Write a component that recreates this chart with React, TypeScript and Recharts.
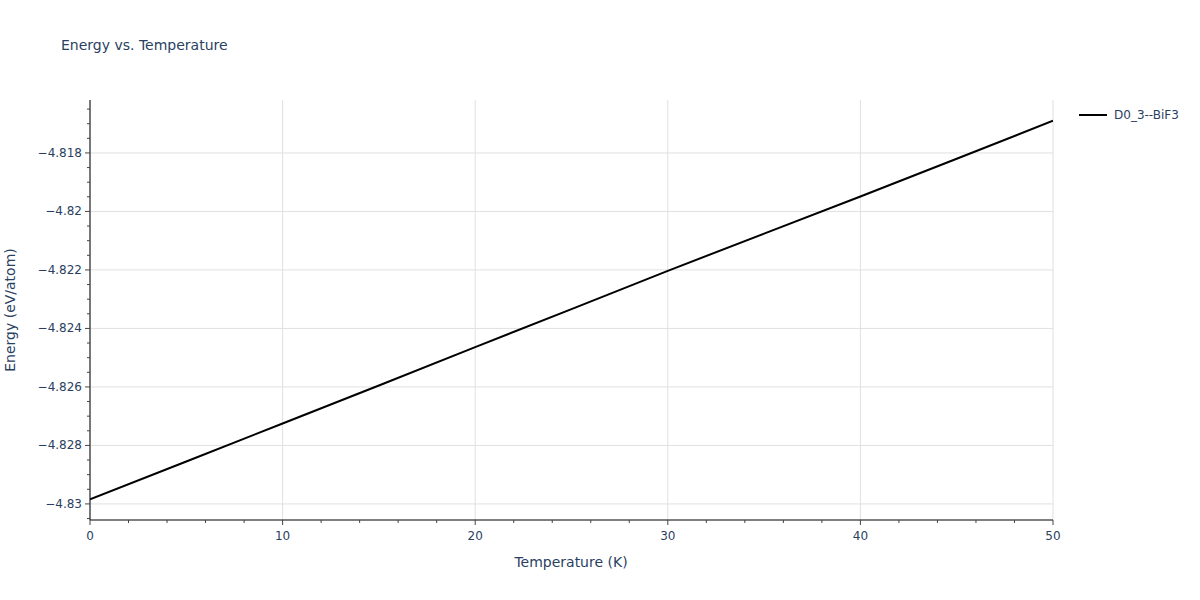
import React from 'react';
import { LineChart, Line, XAxis, YAxis, CartesianGrid } from 'recharts';

const temperatures = [0, 5, 10, 15, 20, 25, 30, 35, 40, 45, 50];
const energies = [-4.82984, -4.82855, -4.82725, -4.82595, -4.82464, -4.82334, -4.82203, -4.82076, -4.81949, -4.81820, -4.8169];
const seriesName = 'D0_3--BiF3';

const xMajorTicks = [0, 10, 20, 30, 40, 50];
const xMinorTicks = [2, 4, 6, 8, 12, 14, 16, 18, 22, 24, 26, 28, 32, 34, 36, 38, 42, 44, 46, 48];
const yMajorTicks = [-4.83, -4.828, -4.826, -4.824, -4.822, -4.82, -4.818];
const yMinorTicks = [-4.8305, -4.8295, -4.829, -4.8285, -4.8275, -4.827, -4.8265, -4.8255, -4.825, -4.8245, -4.8235, -4.823, -4.8225, -4.8215, -4.821, -4.8205, -4.8195, -4.819, -4.8185, -4.8175, -4.817, -4.8165];
const xDomain = [0, 50];
const yDomain = [-4.83055, -4.81619];

const data = temperatures.map((t, i) => ({ t, e: energies[i] }));

const FONT = '"DejaVu Sans", Verdana, sans-serif';
const TEXT = '#2a3f5f';

const isMajor = (list: number[], v: number) => list.some((m) => Math.abs(m - v) < 1e-9);
const fmt = (v: number) => String(v).replace('-', '\u2212');

const XTick = (props: any) => {
  const { x, y, payload } = props;
  const major = isMajor(xMajorTicks, payload.value);
  return (
    <g>
      <line x1={x} x2={x} y1={y} y2={y + (major ? 5 : 3)} stroke="#444" strokeWidth={1} />
      {major && (
        <text x={x} y={y + 20} textAnchor="middle" fontSize={12} fill={TEXT} fontFamily={FONT}>
          {fmt(payload.value)}
        </text>
      )}
    </g>
  );
};

const YTick = (props: any) => {
  const { x, y, payload } = props;
  const major = isMajor(yMajorTicks, payload.value);
  return (
    <g>
      <line x1={x - (major ? 5 : 3)} x2={x} y1={y} y2={y} stroke="#444" strokeWidth={1} />
      {major && (
        <text x={x - 8} y={y + 4} textAnchor="end" fontSize={12} fill={TEXT} fontFamily={FONT}>
          {fmt(payload.value)}
        </text>
      )}
    </g>
  );
};

export default function App() {
  return (
    <div style={{ position: 'absolute', left: 0, top: 0, width: 1200, height: 600, background: '#fff' }}>
      <div style={{ position: 'absolute', left: 61, top: 37, fontFamily: FONT, fontSize: 14, color: TEXT, whiteSpace: 'nowrap' }}>
        Energy vs. Temperature
      </div>
      <LineChart width={1200} height={600} data={data} margin={{ top: 100, right: 147, bottom: 40, left: 10 }}>
        <CartesianGrid stroke="#e0e0e0" strokeWidth={1} horizontalValues={yMajorTicks} verticalValues={xMajorTicks} />
        <XAxis
          dataKey="t"
          type="number"
          domain={xDomain}
          ticks={[...xMajorTicks, ...xMinorTicks].sort((a, b) => a - b)}
          interval={0}
          tickSize={0}
          tickMargin={0}
          tickLine={false}
          tick={XTick}
          height={40}
          axisLine={{ stroke: '#000', strokeWidth: 1 }}
          allowDataOverflow
        />
        <YAxis
          type="number"
          domain={yDomain}
          ticks={[...yMajorTicks, ...yMinorTicks].sort((a, b) => a - b)}
          interval={0}
          tickSize={0}
          tickMargin={0}
          tickLine={false}
          tick={YTick}
          width={80}
          axisLine={{ stroke: '#000', strokeWidth: 1 }}
          allowDataOverflow
        />
        <Line dataKey="e" name={seriesName} stroke="#000" strokeWidth={2} dot={false} isAnimationActive={false} type="linear" />
      </LineChart>
      <div style={{ position: 'absolute', left: 1078, top: 108, display: 'flex', alignItems: 'center', fontFamily: FONT, fontSize: 12, color: TEXT, whiteSpace: 'nowrap' }}>
        <svg width={30} height={14} style={{ marginRight: 6 }}>
          <line x1={1} x2={29} y1={7} y2={7} stroke="#000" strokeWidth={2} />
        </svg>
        <span>{seriesName}</span>
      </div>
      <span style={{ position: 'absolute', left: 571, top: 554, transform: 'translateX(-50%)', whiteSpace: 'nowrap', fontFamily: FONT, fontSize: 14, color: TEXT }}>
        Temperature (K)
      </span>
      <div style={{ position: 'absolute', left: 10, top: 310, transform: 'translate(-50%, -50%) rotate(-90deg)', transformOrigin: 'center', fontFamily: FONT, fontSize: 14, color: TEXT, whiteSpace: 'nowrap' }}>
        Energy (eV/atom)
      </div>
    </div>
  );
}
